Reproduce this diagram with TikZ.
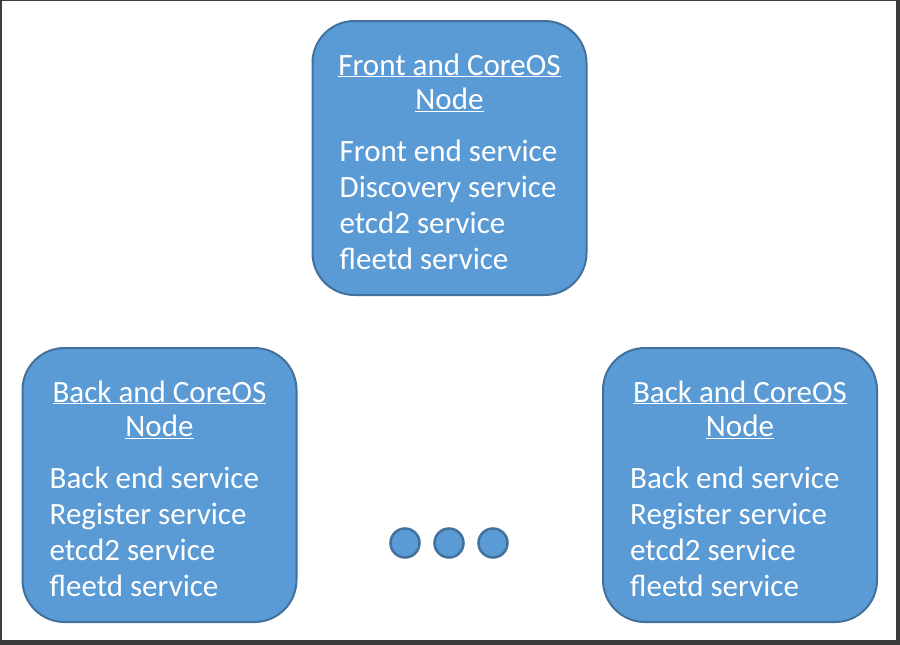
\documentclass[tikz,border=0pt]{standalone}
\usepackage{fontspec}
\setmainfont{Carlito}
\definecolor{boxblue}{HTML}{5B9BD5}
\definecolor{boxedge}{HTML}{41719C}
\definecolor{framegray}{HTML}{3C3C3C}
\tikzset{
  corebox/.style={draw=boxedge, line width=2pt, fill=boxblue, rounded corners=42pt,
    minimum width=274pt, minimum height=274pt, inner sep=0pt},
  titletext/.style={text=white, align=center, font=\fontsize{31}{34.5}\selectfont,
    inner sep=0pt, anchor=base},
  bodytext/.style={text=white, align=left, font=\fontsize{31}{36}\selectfont,
    inner sep=0pt, anchor=base west},
  moredot/.style={circle, draw=boxedge, line width=2.5pt, fill=boxblue,
    minimum size=29pt, inner sep=0pt}
}
\begin{document}
\begin{tikzpicture}[x=1pt,y=-1pt]
  \fill[framegray] (0,0) rectangle (900,645);
  \fill[white] (2,1) rectangle (896,640);

  % the base anchor of a multi-line node sits on its last line
  \node[corebox] (front) at (449.5,158) {};
  \node[titletext] (fronttitle) at ([yshift=-89.5pt]front.north) {\underline{Front and CoreOS}\\\underline{Node}};
  \node[bodytext] (frontlist) at ([xshift=28pt,yshift=-249pt]front.north west) {Front end service\\Discovery service\\etcd2 service\\fleetd service};

  \node[corebox] (backA) at (159.5,485) {};
  \node[titletext] (backAtitle) at ([yshift=-89.5pt]backA.north) {\underline{Back and CoreOS}\\\underline{Node}};
  \node[bodytext] (backAlist) at ([xshift=28pt,yshift=-249pt]backA.north west) {Back end service\\Register service\\etcd2 service\\fleetd service};

  \node[corebox] (backB) at (740,485) {};
  \node[titletext] (backBtitle) at ([yshift=-89.5pt]backB.north) {\underline{Back and CoreOS}\\\underline{Node}};
  \node[bodytext] (backBlist) at ([xshift=28pt,yshift=-249pt]backB.north west) {Back end service\\Register service\\etcd2 service\\fleetd service};

  \node[moredot] (dotA) at (405,543) {};
  \node[moredot] (dotB) at (449,543) {};
  \node[moredot] (dotC) at (493,543) {};
\end{tikzpicture}
\end{document}
